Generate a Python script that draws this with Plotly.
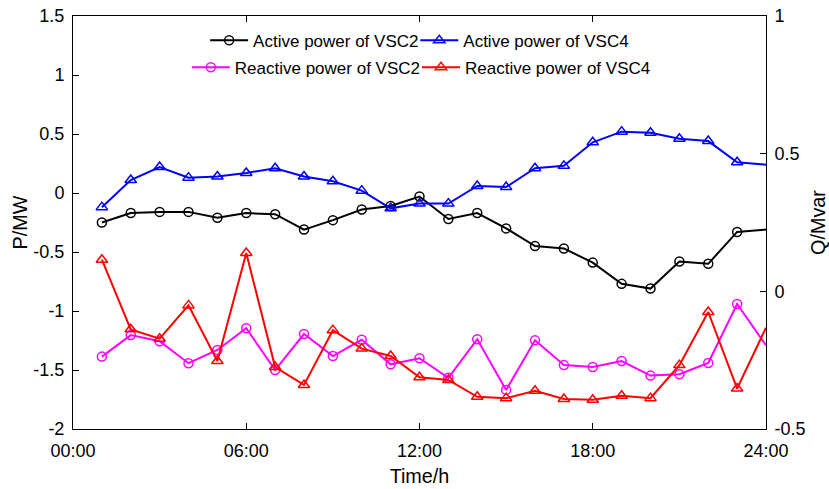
import plotly.graph_objects as go

# ---------------- data ----------------
hours = list(range(1, 25))
p_vsc2 = [-0.25, -0.17, -0.16, -0.16, -0.21, -0.17, -0.18, -0.31, -0.23, -0.14, -0.11, -0.03,
          -0.22, -0.17, -0.30, -0.45, -0.47, -0.59, -0.77, -0.81, -0.58, -0.60, -0.33, -0.31]
p_vsc4 = [-0.12, 0.11, 0.22, 0.13, 0.14, 0.17, 0.21, 0.14, 0.10, 0.02, -0.13, -0.09,
          -0.09, 0.06, 0.05, 0.21, 0.23, 0.43, 0.52, 0.51, 0.46, 0.44, 0.26, 0.24]
q_vsc2 = [-0.237, -0.159, -0.181, -0.261, -0.213, -0.134, -0.286, -0.155, -0.235, -0.176, -0.265, -0.243,
          -0.314, -0.174, -0.358, -0.178, -0.268, -0.275, -0.253, -0.306, -0.301, -0.260, -0.046, -0.196]
q_vsc4 = [0.115, -0.138, -0.172, -0.051, -0.253, 0.139, -0.275, -0.340, -0.141, -0.208, -0.235, -0.312,
          -0.322, -0.383, -0.388, -0.361, -0.391, -0.394, -0.379, -0.388, -0.268, -0.075, -0.353, -0.132]

x_tickvals = [0, 6, 12, 18, 24]
x_ticktext = ["00:00", "06:00", "12:00", "18:00", "24:00"]
p_tickvals = [-2, -1.5, -1, -0.5, 0, 0.5, 1, 1.5]
p_ticktext = ["-2", "-1.5", "-1", "-0.5", "0", "0.5", "1", "1.5"]
q_tickvals = [-0.5, 0, 0.5, 1]
q_ticktext = ["-0.5", "0", "0.5", "1"]

series_names = ["Active power of VSC2", "Active power of VSC4",
                "Reactive power of VSC2", "Reactive power of VSC4"]

# ---------------- style ----------------
FONT = "Arial, Liberation Sans, sans-serif"
W, H = 829, 489
L, R, T, B = 73.3, 765.7, 16.0, 429.3
ITEMW = 38


def px2paper_x(px):
    return (px - L) / (R - L)


def px2paper_y(py):
    return (B - py) / (B - T)


marker_op = [1] * (len(hours) - 1) + [0]

fig = go.Figure()
specs = [
    (p_vsc2, "#000000", "circle-open", "y", "legend"),
    (p_vsc4, "#0000FF", "triangle-up-open", "y", "legend2"),
    (q_vsc2, "#FF00FF", "circle-open", "y2", "legend3"),
    (q_vsc4, "#FF0000", "triangle-up-open", "y2", "legend4"),
]
for (vals, col, sym, yax, leg), name in zip(specs, series_names):
    fig.add_trace(go.Scatter(
        x=hours, y=vals, name=name, mode="lines+markers", yaxis=yax, legend=leg,
        line=dict(color=col, width=2),
        marker=dict(symbol=sym, size=9 if "circle" in sym else 10, color=col,
                    line=dict(color=col, width=1.5), opacity=marker_op),
    ))

axis_common = dict(showline=True, linecolor="#000000", linewidth=1, ticks="inside",
                   ticklen=6, tickcolor="#000000", showgrid=False, zeroline=False,
                   tickfont=dict(family=FONT, size=18, color="#000000"))

leg_common = dict(bgcolor="rgba(0,0,0,0)", borderwidth=0, itemwidth=ITEMW,
                  font=dict(family=FONT, size=17, color="#000000"),
                  xanchor="left", yanchor="middle", itemclick=False)

fig.update_layout(
    width=W, height=H,
    margin=dict(l=L, r=W - R, t=T, b=H - B, autoexpand=False),
    paper_bgcolor="#FFFFFF", plot_bgcolor="#FFFFFF",
    xaxis=dict(range=[0, 24], tickvals=x_tickvals, ticktext=x_ticktext, mirror="ticks",
               ticklabelstandoff=5,
               title=dict(text="Time/h", font=dict(family=FONT, size=19.8, color="#000000"), standoff=9),
               **axis_common),
    yaxis=dict(range=[-2, 1.5], tickvals=p_tickvals, ticktext=p_ticktext, ticklabelstandoff=4,
               title=dict(text="P/MW", font=dict(family=FONT, size=19.8, color="#000000"), standoff=0),
               **axis_common),
    yaxis2=dict(range=[-0.5, 1], tickvals=q_tickvals, ticktext=q_ticktext, overlaying="y",
                side="right", ticklabelstandoff=4,
                title=dict(text="Q/Mvar", font=dict(family=FONT, size=19.8, color="#000000"), standoff=26),
                **axis_common),
    legend=dict(x=px2paper_x(253.3 - ITEMW - 10), y=px2paper_y(40.7), **leg_common),
    legend2=dict(x=px2paper_x(463.3 - ITEMW - 10), y=px2paper_y(40.7), **leg_common),
    legend3=dict(x=px2paper_x(235.0 - ITEMW - 10), y=px2paper_y(67.7), **leg_common),
    legend4=dict(x=px2paper_x(465.0 - ITEMW - 10), y=px2paper_y(67.7), **leg_common),
    showlegend=True,
)

fig.write_html("out.html")
